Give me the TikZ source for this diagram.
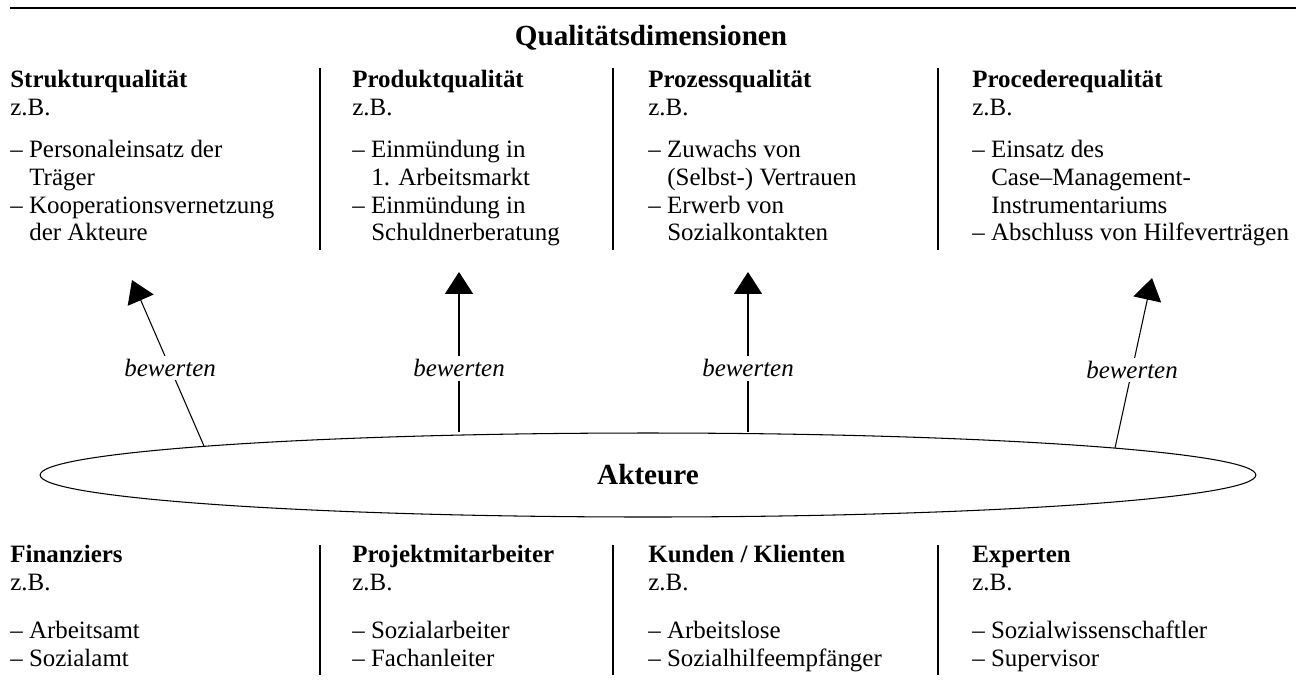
\documentclass[tikz,border=0pt]{standalone}
\usepackage{fontspec}
\setmainfont{Liberation Serif}
\usetikzlibrary{arrows.meta,shapes.geometric}
\newcommand\bodyfont{\fontsize{14.2}{16}\selectfont}
\newcommand\bigfont{\fontsize{16.6}{19}\selectfont\bfseries}
\begin{document}
\begin{tikzpicture}[x=0.02cm,y=-0.02cm,
 txt/.style={anchor=base west, inner sep=0pt, font=\bodyfont},
 hd/.style={anchor=base west, inner sep=0pt, font=\bodyfont\bfseries},
 sepline/.style={line width=0.6pt},
 arr/.style={line width=0.6pt, -{Triangle[width=16pt,length=12.5pt]}},
 lbl/.style={fill=white, font=\bodyfont\itshape, inner sep=2pt}]
\useasboundingbox (0,0) rectangle (1296,681);
\draw[line width=1.1pt] (10,8) -- (1296,8);
\node[anchor=base, inner sep=0pt, font=\bigfont] (title) at (651,45) {Qualitätsdimensionen};
% separators
\foreach \x/\n in {320/a,613/b,938/c}{
  \draw[sepline] (\x,68) -- (\x,250);
  \draw[sepline] (\x,545) -- (\x,675);
}
% top column 1
\node[hd]  (s1) at (10,87)  {Strukturqualität};
\node[txt] (s2) at (10,115) {z.B.};
\node[txt] (s3) at (10,157) {– Personaleinsatz der};
\node[txt] (s4) at (29,185) {Träger};
\node[txt] (s5) at (10,213) {– Kooperationsvernetzung};
\node[txt] (s6) at (29,240) {der Akteure};
% top column 2
\node[hd]  (p1) at (352,87)  {Produktqualität};
\node[txt] (p2) at (352,115) {z.B.};
\node[txt] (p3) at (352,157) {– Einmündung in};
\node[txt] (p4) at (371,185) {1. Arbeitsmarkt};
\node[txt] (p5) at (352,213) {– Einmündung in};
\node[txt] (p6) at (371,240) {Schuldnerberatung};
% top column 3
\node[hd]  (z1) at (648,87)  {Prozessqualität};
\node[txt] (z2) at (648,115) {z.B.};
\node[txt] (z3) at (648,157) {– Zuwachs von};
\node[txt] (z4) at (667,185) {(Selbst-) Vertrauen};
\node[txt] (z5) at (648,213) {– Erwerb von};
\node[txt] (z6) at (667,240) {Sozialkontakten};
% top column 4
\node[hd]  (c1) at (972,87)  {Procederequalität};
\node[txt] (c2) at (972,115) {z.B.};
\node[txt] (c3) at (972,157) {– Einsatz des};
\node[txt] (c4) at (991,185) {Case–Management-};
\node[txt] (c5) at (991,213) {Instrumentariums};
\node[txt] (c6) at (972,240) {– Abschluss von Hilfeverträgen};
% ellipse
\node[ellipse, draw, line width=0.6pt, minimum width=24.32cm, minimum height=1.68cm,
      inner sep=0pt, font=\bigfont] (akt) at (648,475) {Akteure};
% arrows
\coordinate (tip1) at (132,280);
\coordinate (tip2) at (459,272);
\coordinate (tip3) at (748,272);
\coordinate (tip4) at (1152,278);
\coordinate (foot1) at ([shift={(-444,-29)}]akt.center);
\coordinate (foot4) at ([shift={(467,-27)}]akt.center);
\draw[arr] (foot1) -- node[lbl,pos=0.47] (b1) {bewerten} (tip1);
\draw[arr] (akt.north -| tip2) -- node[lbl,pos=0.40] (b2) {bewerten} (tip2);
\draw[arr] (akt.north -| tip3) -- node[lbl,pos=0.40] (b3) {bewerten} (tip3);
\draw[arr] (foot4) -- node[lbl,pos=0.46] (b4) {bewerten} (tip4);
% bottom columns
\node[hd]  (f1) at (10,562) {Finanziers};
\node[txt] (f2) at (10,590) {z.B.};
\node[txt] (f3) at (10,638) {– Arbeitsamt};
\node[txt] (f4) at (10,666) {– Sozialamt};
\node[hd]  (m1) at (352,562) {Projektmitarbeiter};
\node[txt] (m2) at (352,590) {z.B.};
\node[txt] (m3) at (352,638) {– Sozialarbeiter};
\node[txt] (m4) at (352,666) {– Fachanleiter};
\node[hd]  (k1) at (648,562) {Kunden / Klienten};
\node[txt] (k2) at (648,590) {z.B.};
\node[txt] (k3) at (648,638) {– Arbeitslose};
\node[txt] (k4) at (648,666) {– Sozialhilfeempfänger};
\node[hd]  (e1) at (972,562) {Experten};
\node[txt] (e2) at (972,590) {z.B.};
\node[txt] (e3) at (972,638) {– Sozialwissenschaftler};
\node[txt] (e4) at (972,666) {– Supervisor};
\end{tikzpicture}
\end{document}
